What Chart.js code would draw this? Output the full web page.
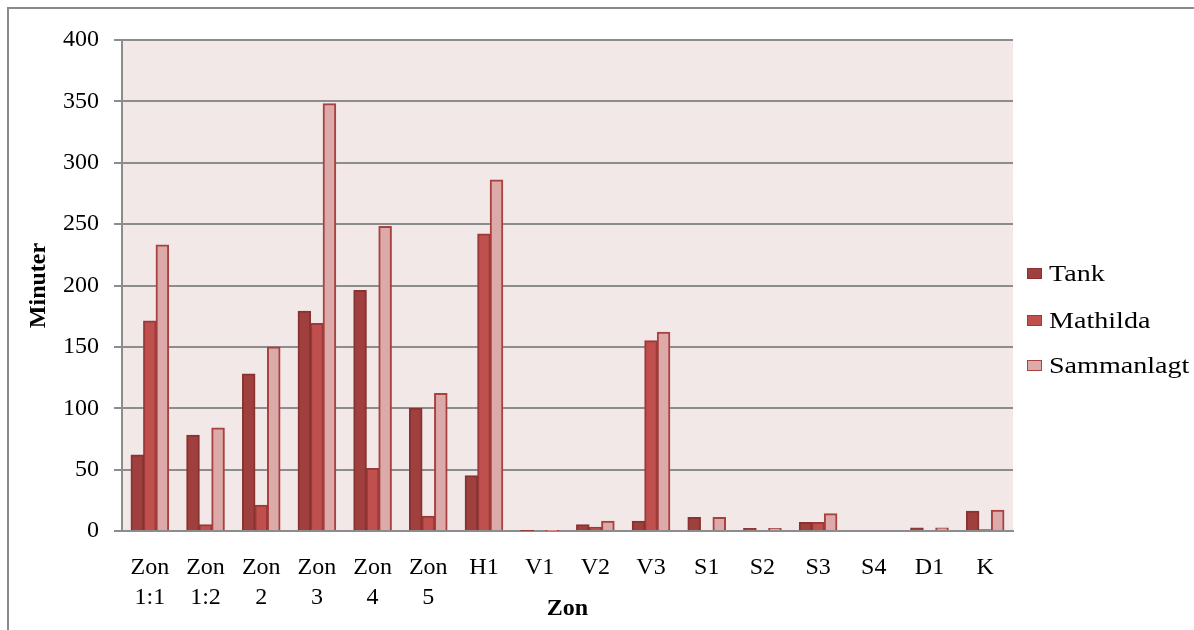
<!DOCTYPE html>
<html>
<head>
<meta charset="utf-8">
<script src="https://cdn.jsdelivr.net/npm/chart.js@4/dist/chart.umd.min.js"></script>
<style>
  html, body { margin: 0; padding: 0; background: #fff; }
  #wrap { position: relative; width: 1194px; height: 630px; }
  #legend { position: absolute; left: 1027px; top: 0; font-family: "Liberation Serif", "Times New Roman", serif; font-size: 24px; color: #000; }
  .item { position: absolute; left: 0; white-space: nowrap; display: flex; align-items: center; height: 28px; line-height: 28px; }
  .sw { width: 15px; height: 11px; box-sizing: border-box; border: 1.5px solid; margin-right: 7px; }
  .txt { display: inline-block; transform: scaleX(1.17); transform-origin: left center; }
</style>
</head>
<body>
<div id="wrap">
  <canvas id="c" width="1194" height="630"></canvas>
  <div id="legend"></div>
</div>
<script>
// Minutes spent per zone
const categories = [["Zon", "1:1"], ["Zon", "1:2"], ["Zon", "2"], ["Zon", "3"], ["Zon", "4"], ["Zon", "5"],
                    "H1", "V1", "V2", "V3", "S1", "S2", "S3", "S4", "D1", "K"];
const tank       = [62, 78, 128, 179, 196, 100, 45, 0.5, 5, 8, 11, 2, 7, 0, 2.5, 16];
const mathilda   = [171, 5, 21, 169, 51, 12, 242, 0, 3, 155, 0, 0, 7, 0, 0, 1];
const sammanlagt = [233, 84, 150, 348, 248, 112, 286, 0.5, 8, 162, 11, 2, 14, 0, 2.5, 17];
const yTicks     = [0, 50, 100, 150, 200, 250, 300, 350, 400];

const seriesNames = ["Tank", "Mathilda", "Sammanlagt"];
const fills   = ["#a0403e", "#c0504d", "#dcaaa9"];
const borders = ["#883331", "#9b3b39", "#a8413f"];

const FONT = "'Liberation Serif', 'Times New Roman', serif";
const GRID = "#8c8c8c";

// White page, framed edges and tinted plot area
const backdrop = {
  id: "backdrop",
  beforeDraw(chart) {
    const { ctx, chartArea: a } = chart;
    ctx.save();
    ctx.fillStyle = "#ffffff";
    ctx.fillRect(0, 0, chart.width, chart.height);
    ctx.fillStyle = "#f2e8e8";
    ctx.fillRect(a.left, a.top, a.right - a.left, a.bottom - a.top);
    ctx.strokeStyle = "#8a8a8a";
    ctx.lineWidth = 2;
    ctx.beginPath();
    ctx.moveTo(8, chart.height);
    ctx.lineTo(8, 8);
    ctx.lineTo(chart.width, 8);
    ctx.stroke();
    ctx.restore();
  }
};

const datasets = [tank, mathilda, sammanlagt].map((vals, i) => ({
  label: seriesNames[i],
  data: vals,
  backgroundColor: fills[i],
  borderColor: borders[i],
  borderWidth: 2,
  borderSkipped: "bottom",
  inflateAmount: 0.5,
  categoryPercentage: 0.675,
  barPercentage: 1.0
}));

const chart = new Chart(document.getElementById("c"), {
  type: "bar",
  data: { labels: categories, datasets },
  plugins: [backdrop],
  options: {
    responsive: false,
    animation: false,
    devicePixelRatio: 1,
    layout: { padding: { left: 0, top: 40, right: 181, bottom: 0 } },
    plugins: { legend: { display: false }, tooltip: { enabled: false } },
    scales: {
      x: {
        grid: { display: false },
        border: { display: true, color: GRID, width: 2 },
        ticks: {
          color: "#000",
          font: { family: FONT, size: 24, lineHeight: 1.25 },
          padding: 14,
          autoSkip: false,
          maxRotation: 0,
          minRotation: 0
        },
        title: {
          display: true,
          text: "Zon",
          color: "#000",
          font: { family: FONT, size: 24, weight: "bold" },
          padding: { top: 0, bottom: 7 }
        },
        afterFit(s) { s.height = 99; }
      },
      y: {
        min: 0,
        max: 400,
        afterBuildTicks(s) { s.ticks = yTicks.map(v => ({ value: v })); },
        grid: { color: GRID, lineWidth: 2, tickLength: 8, tickColor: GRID, drawTicks: true },
        border: { display: true, color: GRID, width: 2 },
        ticks: {
          color: "#000",
          font: { family: FONT, size: 24 },
          padding: 15
        },
        title: {
          display: true,
          text: "Minuter",
          color: "#000",
          font: { family: FONT, size: 24, weight: "bold" },
          padding: { top: 24, bottom: 0 }
        },
        afterFit(s) { s.width = 122; }
      }
    }
  }
});

// Legend entries built from the datasets
const legend = document.getElementById("legend");
const rowCenters = [273, 320, 365];
chart.data.datasets.forEach((ds, i) => {
  const item = document.createElement("div");
  item.className = "item";
  item.style.top = (rowCenters[i] - 14) + "px";
  const sw = document.createElement("span");
  sw.className = "sw";
  sw.style.background = ds.backgroundColor;
  sw.style.borderColor = ds.borderColor;
  const txt = document.createElement("span");
  txt.className = "txt";
  txt.textContent = ds.label;
  item.appendChild(sw);
  item.appendChild(txt);
  legend.appendChild(item);
});
</script>
</body>
</html>
